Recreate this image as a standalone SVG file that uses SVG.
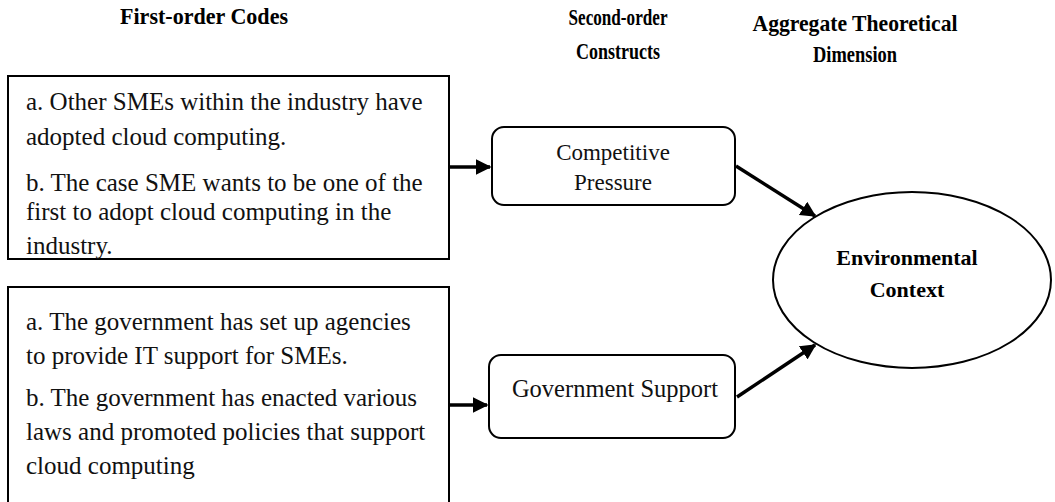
<svg xmlns="http://www.w3.org/2000/svg" width="1055" height="502" viewBox="0 0 1055 502">
<style>
.hdr{font-family:"Liberation Serif",serif;font-weight:bold;font-size:23px;fill:#000;text-anchor:middle}
.body{font-family:"Liberation Serif",serif;font-size:25px;fill:#111}
.lbl{font-family:"Liberation Serif",serif;font-size:23px;fill:#111;text-anchor:middle}
.ell{font-family:"Liberation Serif",serif;font-weight:bold;font-size:22px;fill:#000;text-anchor:middle}
.box{fill:#fff;stroke:#000;stroke-width:2}
.conn{stroke:#000;stroke-width:3.5;fill:none;marker-end:url(#ah)}
</style>
<defs>
<marker id="ah" viewBox="0 0 10 10" refX="9" refY="5" markerWidth="4.5" markerHeight="4.5" orient="auto" markerUnits="strokeWidth">
<path d="M0,0 L10,5 L0,10 z" fill="#000"/>
</marker>
</defs>
<rect width="1055" height="502" fill="#fff"/>
<g id="headers">
<text class="hdr" x="204" y="24" textLength="168" lengthAdjust="spacingAndGlyphs">First-order Codes</text>
<text class="hdr" x="618" y="25" textLength="99" lengthAdjust="spacingAndGlyphs">Second-order</text>
<text class="hdr" x="618" y="59" textLength="84" lengthAdjust="spacingAndGlyphs">Constructs</text>
<text class="hdr" x="855" y="31" textLength="205" lengthAdjust="spacingAndGlyphs">Aggregate Theoretical</text>
<text class="hdr" x="855" y="62" textLength="84" lengthAdjust="spacingAndGlyphs">Dimension</text>
</g>
<g id="codes1">
<rect class="box" x="8" y="76" width="441" height="183"/>
<text class="body" x="26" y="110">a. Other SMEs within the industry have</text>
<text class="body" x="26" y="145">adopted cloud computing.</text>
<text class="body" x="26" y="191">b. The case SME wants to be one of the</text>
<text class="body" x="26" y="220">first to adopt cloud computing in the</text>
<text class="body" x="26" y="254">industry.</text>
</g>
<g id="codes2">
<rect class="box" x="8" y="287" width="441" height="230"/>
<text class="body" x="26" y="330">a. The government has set up agencies</text>
<text class="body" x="26" y="364">to provide IT support for SMEs.</text>
<text class="body" x="26" y="406">b. The government has enacted various</text>
<text class="body" x="26" y="440">laws and promoted policies that support</text>
<text class="body" x="26" y="474">cloud computing</text>
</g>
<g id="competitive">
<rect class="box" x="492" y="127" width="243" height="78" rx="12"/>
<text class="lbl" x="613" y="160">Competitive</text>
<text class="lbl" x="613" y="190">Pressure</text>
</g>
<g id="government">
<rect class="box" x="489" y="355" width="246" height="83" rx="12"/>
<text class="lbl" x="615" y="397" style="font-size:24.5px">Government Support</text>
</g>
<g id="environmental">
<ellipse class="box" cx="912" cy="280" rx="139" ry="88"/>
<text class="ell" x="907" y="265">Environmental</text>
<text class="ell" x="907" y="297">Context</text>
</g>
<g id="connectors">
<path class="conn" d="M449,167 L490,167"/>
<path class="conn" d="M449,405 L487,405"/>
<path class="conn" d="M736,166 L815,216"/>
<path class="conn" d="M737,397 L815,345"/>
</g>
</svg>
